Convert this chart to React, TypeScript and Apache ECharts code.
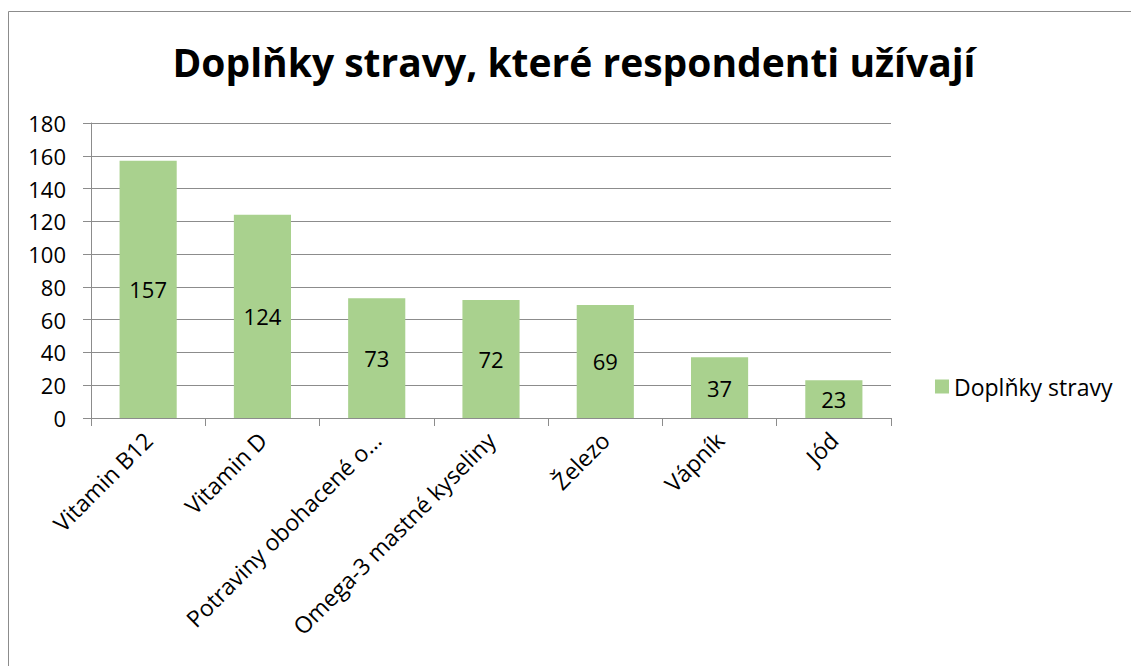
import React, { useEffect, useRef } from "react";
import * as echarts from "echarts";

const categories = [
  "Vitamin B12",
  "Vitamin D",
  "Potraviny obohacené o…",
  "Omega-3 mastné kyseliny",
  "Železo",
  "Vápník",
  "Jód",
];
const values = [157, 124, 73, 72, 69, 37, 23];
const seriesName = "Doplňky stravy";
const titleText = "Doplňky stravy, které respondenti užívají";
const yMin = 0;
const yMax = 180;
const yInterval = 20;

const FONT = "'Open Sans', 'Noto Sans', sans-serif";

export default function App() {
  const ref = useRef<HTMLDivElement>(null);
  useEffect(() => {
    if (!ref.current) return;
    const chart = echarts.init(ref.current, null, { renderer: "svg" });
    chart.setOption({
      animation: false,
      backgroundColor: "#ffffff",
      title: {
        text: titleText,
        left: 569,
        top: 37,
        textAlign: "center",
        textStyle: { fontFamily: FONT, fontWeight: "bold", fontSize: 39, color: "#000" },
      },
      graphic: [
        {
          type: "rect",
          shape: { x: 8.5, y: 11.5, width: 1140, height: 700 },
          style: { fill: "none", stroke: "#8c8c8c", lineWidth: 1 },
          silent: true,
        },
      ],
      legend: {
        data: [seriesName],
        left: 930,
        top: 370,
        itemWidth: 14,
        itemHeight: 14,
        itemGap: 7,
        icon: "rect",
        textStyle: { fontFamily: FONT, fontSize: 23, color: "#000" },
      },
      grid: { left: 91, right: 240, top: 123, bottom: 248, containLabel: false },
      xAxis: {
        type: "category",
        data: categories,
        axisLine: { lineStyle: { color: "#8c8c8c", width: 1 } },
        axisTick: { show: true, alignWithLabel: false, length: 8, lineStyle: { color: "#8c8c8c" } },
        axisLabel: {
          rotate: 45,
          interval: 0,
          margin: 18,
          fontFamily: FONT,
          fontSize: 23,
          color: "#000",
        },
      },
      yAxis: {
        type: "value",
        min: yMin,
        max: yMax,
        interval: yInterval,
        axisLine: { show: true, lineStyle: { color: "#8c8c8c", width: 1 } },
        axisTick: { show: true, length: 8, lineStyle: { color: "#8c8c8c" } },
        splitLine: { lineStyle: { color: "#8c8c8c", width: 1 } },
        axisLabel: { margin: 25, fontFamily: FONT, fontSize: 22, color: "#000" },
      },
      series: [
        {
          name: seriesName,
          type: "bar",
          data: values,
          barWidth: "50%",
          itemStyle: { color: "#a9d18e" },
          label: {
            show: true,
            position: "inside",
            fontFamily: FONT,
            fontSize: 22,
            color: "#000",
          },
        },
      ],
    });
    return () => chart.dispose();
  }, []);
  return (
    <div
      ref={ref}
      style={{ position: "fixed", left: 0, top: 0, width: 1131, height: 666 }}
    />
  );
}
